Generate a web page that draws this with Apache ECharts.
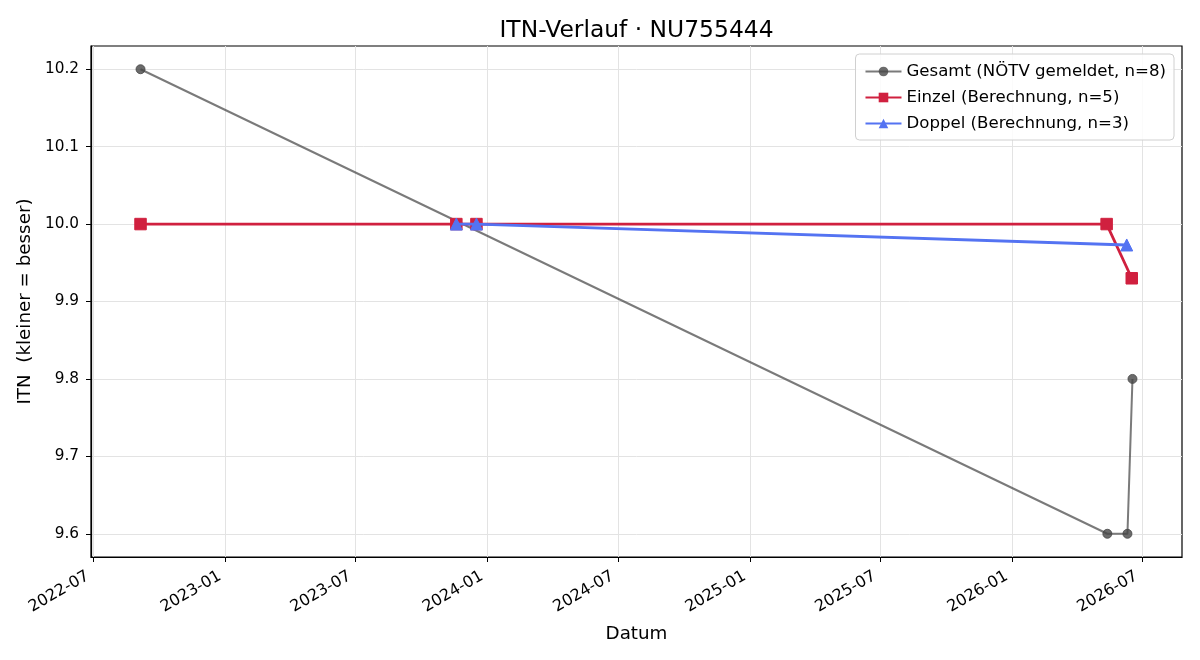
<!DOCTYPE html>
<html>
<head>
<meta charset="utf-8">
<script src="https://cdn.jsdelivr.net/npm/echarts@6/dist/echarts.min.js"></script>
<style>html,body{margin:0;padding:0;background:#fff}#c{width:1200px;height:660px}</style>
</head>
<body>
<div id="c"></div>
<script>
const titleText = 'ITN-Verlauf · NU755444';
const gesamtName = 'Gesamt (NÖTV gemeldet, n=8)';
const einzelName = 'Einzel (Berechnung, n=5)';
const doppelName = 'Doppel (Berechnung, n=3)';
const gesamtDates = ['2022-09-05', '2026-05-14', '2026-06-11', '2026-06-18'];
const gesamtValues = [10.2, 9.6, 9.6, 9.8];
const einzelDates = ['2022-09-05', '2023-11-19', '2023-12-17', '2026-05-13', '2026-06-17'];
const einzelValues = [10.0, 10.0, 10.0, 10.0, 9.93];
const doppelDates = ['2023-11-19', '2023-12-17', '2026-06-10'];
const doppelValues = [10.0, 10.0, 9.973];
const xTickDates = ['2022-07-01','2023-01-01','2023-07-01','2024-01-01','2024-07-01','2025-01-01','2025-07-01','2026-01-01','2026-07-01'];
const yTicks = [9.6, 9.7, 9.8, 9.9, 10.0, 10.1, 10.2];
const xMinDate = '2022-06-28';
const xMaxDate = '2026-08-26';
const yMin = 9.57, yMax = 10.23;

const ts = d => new Date(d + 'T00:00:00Z').getTime();
const pairs = (ds, vs) => ds.map((d, i) => [ts(d), vs[i]]);
const FONT = 'DejaVu Sans';
const fmtDate = v => { const d = new Date(v); return d.getUTCFullYear() + '-' + String(d.getUTCMonth() + 1).padStart(2, '0'); };

const chart = echarts.init(document.getElementById('c'), null, {renderer: 'canvas'});
chart.setOption({
  backgroundColor: '#fff',
  animation: false,
  textStyle: {fontFamily: FONT},
  title: {text: titleText, left: 631.5, textAlign: 'center', top: 14, textStyle: {fontFamily: FONT, fontSize: 23.4, fontWeight: 'normal', color: '#000'}},
  grid: {left: 91, right: 18, top: 46, bottom: 103, show: true, borderColor: '#000', borderWidth: 1.2, backgroundColor: 'transparent'},
  legend: {
    orient: 'vertical', right: 26, top: 54, itemWidth: 36, itemHeight: 12, itemGap: 9,
    backgroundColor: 'rgba(255,255,255,0.85)', borderColor: '#d0d0d0', borderWidth: 1, borderRadius: 4,
    padding: [9, 8, 8, 9],
    textStyle: {fontFamily: FONT, fontSize: 16.6, color: '#000'},
    data: [gesamtName, einzelName, doppelName]
  },
  xAxis: {
    type: 'value', min: ts(xMinDate), max: ts(xMaxDate),
    name: 'Datum', nameLocation: 'middle', nameGap: 68, nameTextStyle: {fontFamily: FONT, fontSize: 18.3, color: '#000'},
    axisLine: {show: true, lineStyle: {color: '#000', width: 1.2}},
    axisTick: {show: true, length: 5, lineStyle: {color: '#000'}, customValues: xTickDates.map(ts)},
    axisLabel: {rotate: 30, fontFamily: FONT, fontSize: 16, color: '#000', margin: 15, padding: [0, 6, 0, 0], customValues: xTickDates.map(ts), formatter: fmtDate, hideOverlap: false, showMinLabel: true, showMaxLabel: true},
    splitLine: {show: true, lineStyle: {color: '#e3e3e3', width: 1}}
  },
  yAxis: {
    type: 'value', min: yMin, max: yMax,
    name: 'ITN  (kleiner = besser)', nameLocation: 'middle', nameGap: 56, nameRotate: 90,
    nameTextStyle: {fontFamily: FONT, fontSize: 18.3, color: '#000'},
    axisLine: {show: true, lineStyle: {color: '#000', width: 1.2}},
    axisTick: {show: true, length: 5, lineStyle: {color: '#000'}, customValues: yTicks},
    axisLabel: {fontFamily: FONT, fontSize: 15.3, color: '#000', margin: 12, customValues: yTicks, formatter: v => v.toFixed(1)},
    splitLine: {show: true, lineStyle: {color: '#e3e3e3', width: 1}}
  },
  series: [
    {name: gesamtName, type: 'line', data: pairs(gesamtDates, gesamtValues), symbol: 'circle', symbolSize: 9,
     lineStyle: {color: 'rgba(70,70,70,0.72)', width: 2}, itemStyle: {color: 'rgba(70,70,70,0.8)', borderColor: 'rgba(70,70,70,0.8)'}, z: 2},
    {name: einzelName, type: 'line', data: pairs(einzelDates, einzelValues), symbol: 'rect', symbolSize: 11.5,
     lineStyle: {color: '#d0203f', width: 2.8}, itemStyle: {color: '#d0203f', borderColor: '#d0203f'}, z: 3},
    {name: doppelName, type: 'line', data: pairs(doppelDates, doppelValues), symbol: 'triangle', symbolSize: 12,
     lineStyle: {color: '#5473f2', width: 2.8}, itemStyle: {color: '#5473f2', borderColor: '#5473f2'}, z: 4}
  ]
});
</script>
</body>
</html>
